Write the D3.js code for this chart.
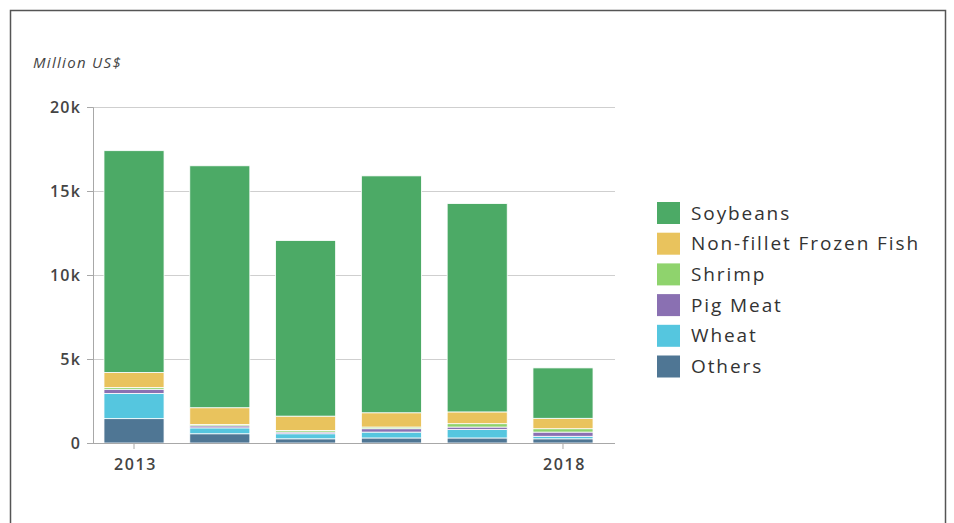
<!DOCTYPE html>
<html>
<head>
<meta charset="utf-8">
<script src="https://cdn.jsdelivr.net/npm/d3@7/dist/d3.min.js"></script>
<style>
  html, body { margin: 0; padding: 0; background: #fff; }
  svg { display: block; font-family: "Open Sans", "DejaVu Sans", sans-serif; }
</style>
</head>
<body>
<svg id="chart" width="954" height="523"></svg>
<script>
// Export values by year, in billions (thousand million) US$
const years = ["2013", "2014", "2015", "2016", "2017", "2018"];
const others   = [1.45, 0.55, 0.25, 0.30, 0.30, 0.25];
const wheat    = [1.50, 0.35, 0.30, 0.35, 0.50, 0.15];
const pigMeat  = [0.25, 0.12, 0.10, 0.20, 0.15, 0.25];
const shrimp   = [0.10, 0.08, 0.10, 0.10, 0.20, 0.20];
const fish     = [0.90, 1.00, 0.85, 0.85, 0.70, 0.62];
const soybeans = [13.2, 14.4, 10.45, 14.1, 12.4, 3.0];

const yTicks = [0, 5, 10, 15, 20];
const yTickLabels = ["0", "5k", "10k", "15k", "20k"];
const xTickYears = ["2013", "2018"];

// Series listed bottom-to-top in the stack
const seriesNames = ["Others", "Wheat", "Pig Meat", "Shrimp", "Non-fillet Frozen Fish", "Soybeans"];
const seriesValues = [others, wheat, pigMeat, shrimp, fish, soybeans];
const seriesColors = ["#4f7694", "#55c6df", "#8a70b2", "#8fd36d", "#e9c35d", "#4caa66"];

const rows = years.map((y, i) => {
  const r = { year: y };
  seriesNames.forEach((s, k) => { r[s] = seriesValues[k][i]; });
  return r;
});

const svg = d3.select("#chart");

// Outer frame
svg.append("rect")
  .attr("x", 10.5).attr("y", 10.5)
  .attr("width", 935).attr("height", 520)
  .attr("fill", "none").attr("stroke", "#555").attr("stroke-width", 1.5);

const plot = { left: 93, right: 615, top: 107, bottom: 443 };

const x = d3.scaleBand()
  .domain(years)
  .range([plot.left, 604])
  .paddingInner(0.3)
  .paddingOuter(0.128);

const y = d3.scaleLinear()
  .domain([0, 20])
  .range([plot.bottom, plot.top]);

// Grid lines
svg.append("g")
  .selectAll("line")
  .data(yTicks.filter(t => t > 0))
  .join("line")
  .attr("x1", plot.left).attr("x2", plot.right)
  .attr("y1", d => Math.round(y(d)) + 0.5).attr("y2", d => Math.round(y(d)) + 0.5)
  .attr("stroke", "#cfcfcf").attr("stroke-width", 1);

// Y axis
const yAxis = svg.append("g")
  .attr("transform", `translate(${plot.left},0)`)
  .call(d3.axisLeft(y).tickValues(yTicks)
    .tickFormat((d, i) => yTickLabels[i]).tickSize(6).tickPadding(6));
yAxis.select(".domain").attr("stroke", "#a8a8a8");
yAxis.selectAll(".tick line").attr("stroke", "#a8a8a8");
yAxis.selectAll(".tick text")
  .attr("fill", "#444").attr("font-size", 16).attr("font-weight", 600)
  .attr("letter-spacing", 1.2)
  .attr("font-family", "\"Open Sans\", sans-serif");

// Stacked bars
const stacked = d3.stack().keys(seriesNames)(rows);
svg.append("g")
  .selectAll("g")
  .data(stacked)
  .join("g")
  .attr("fill", (d, i) => seriesColors[i])
  .selectAll("rect")
  .data(d => d)
  .join("rect")
  .attr("x", d => x(d.data.year))
  .attr("width", x.bandwidth())
  .attr("y", d => y(d[1]))
  .attr("height", d => y(d[0]) - y(d[1]))
  .attr("stroke", "#fff").attr("stroke-width", 0.8);

// X axis
const xAxis = svg.append("g")
  .attr("transform", `translate(0,${plot.bottom})`)
  .call(d3.axisBottom(x).tickValues(xTickYears).tickSize(6).tickPadding(10));
xAxis.select(".domain").remove();
svg.append("line")
  .attr("x1", plot.left).attr("x2", plot.right)
  .attr("y1", plot.bottom + 0.5).attr("y2", plot.bottom + 0.5)
  .attr("stroke", "#a8a8a8");
xAxis.selectAll(".tick line").attr("stroke", "#a8a8a8");
xAxis.selectAll(".tick text")
  .attr("fill", "#444").attr("font-size", 16).attr("font-weight", 600)
  .attr("letter-spacing", 1.6).attr("dx", 1.5)
  .attr("font-family", "\"Open Sans\", sans-serif");

// Unit label
svg.append("text")
  .attr("x", 33).attr("y", 68)
  .attr("font-size", 15).attr("font-style", "italic")
  .attr("letter-spacing", 1.3)
  .attr("fill", "#444")
  .text("Million US$");

// Legend (top-to-bottom order)
const legendOrder = seriesNames.slice().reverse();
const legend = svg.append("g").attr("transform", "translate(657,202)");
const item = legend.selectAll("g")
  .data(legendOrder)
  .join("g")
  .attr("transform", (d, i) => `translate(0,${i * 30.7})`);
item.append("rect")
  .attr("width", 23).attr("height", 22)
  .attr("fill", d => seriesColors[seriesNames.indexOf(d)]);
item.append("text")
  .attr("x", 34).attr("y", 11)
  .attr("dy", "0.35em")
  .attr("font-size", 19)
  .attr("letter-spacing", 1.9)
  .attr("fill", "#333")
  .text(d => d);
</script>
</body>
</html>
